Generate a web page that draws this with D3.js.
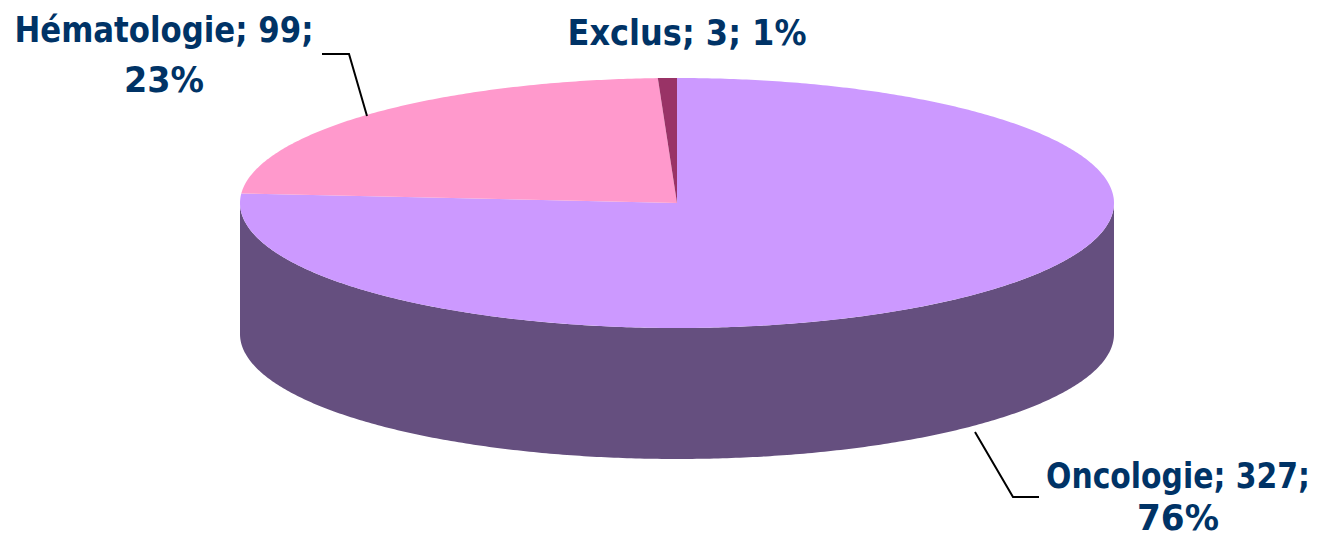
<!DOCTYPE html>
<html>
<head>
<meta charset="utf-8">
<script src="https://cdn.jsdelivr.net/npm/d3@7"></script>
<style>
  html, body { margin: 0; padding: 0; background: #fff; }
  svg { display: block; }
</style>
</head>
<body>
<svg width="1322" height="536"></svg>
<script>
// data
const categories = ["Oncologie", "Hématologie", "Exclus"];
const values = [327, 99, 3];
const percents = ["76%", "23%", "1%"];

const topColors = ["#CC99FF", "#FF99CC", "#993366"];
const sideColors = ["#654F7F", "#804C66", "#4C1933"];

const svg = d3.select("svg");
const cx = 677, cy = 203, rx = 437, ry = 125, depth = 131;

const pie = d3.pie().sort(null).value(d => d)
const arcs = pie(values);

function pt(t, dy) {
  return [cx + rx * Math.sin(t), cy - ry * Math.cos(t) + (dy || 0)];
}

function arcPoints(a0, a1, dy) {
  let n = Math.max(2, Math.ceil(Math.abs(a1 - a0) / 0.01));
  let pts = [];
  for (let i = 0; i <= n; i++) {
    pts.push(pt(a0 + (a1 - a0) * i / n, dy));
  }
  return pts;
}

const line = d3.line();

// side walls (front half only: PI/2 .. 3PI/2)
let gSide = svg.append("g");
arcs.forEach((a, i) => {
  let s = Math.max(a.startAngle, Math.PI / 2);
  let e = Math.min(a.endAngle, Math.PI * 1.5);
  if (e <= s) return;
  let top = arcPoints(s, e, 0);
  let bottom = arcPoints(e, s, depth);
  gSide.append("path")
    .attr("d", line(top.concat(bottom)) + "Z")
    .attr("fill", sideColors[i]);
});

// top faces
let gTop = svg.append("g");
arcs.forEach((a, i) => {
  let pts = [[cx, cy]].concat(arcPoints(a.startAngle, a.endAngle, 0));
  gTop.append("path")
    .attr("d", line(pts) + "Z")
    .attr("fill", topColors[i]);
});

// labels
const labelFont = "Tahoma, 'DejaVu Sans', Verdana, sans-serif";
const labels = [
  { lines: [categories[0] + "; " + values[0] + ";", percents[0]], x: 1178, y: [488, 530], w: [264, 82] },
  { lines: [categories[1] + "; " + values[1] + ";", percents[1]], x: 164, y: [42, 92], w: [299, 80] },
  { lines: [categories[2] + "; " + values[2] + "; " + percents[2]], x: 687, y: [45], w: [239] }
];

let gLab = svg.append("g");
labels.forEach(l => {
  l.lines.forEach((txt, j) => {
    gLab.append("text")
      .attr("x", l.x)
      .attr("y", l.y[j])
      .attr("text-anchor", "middle")
      .attr("textLength", l.w[j])
      .attr("lengthAdjust", "spacingAndGlyphs")
      .style("font-family", labelFont)
      .style("font-weight", "bold")
      .style("font-size", "36px")
      .attr("fill", "#003366")
      .text(txt);
  });
});

// leader lines
const leaders = [
  [[975, 432], [1013, 497], [1039, 497]],
  [[322, 54], [349, 54], [367, 116]]
];
leaders.forEach(p => {
  svg.append("path")
    .attr("d", d3.line()(p))
    .attr("fill", "none")
    .attr("stroke", "#000")
    .attr("stroke-width", 2);
});
</script>
</body>
</html>
